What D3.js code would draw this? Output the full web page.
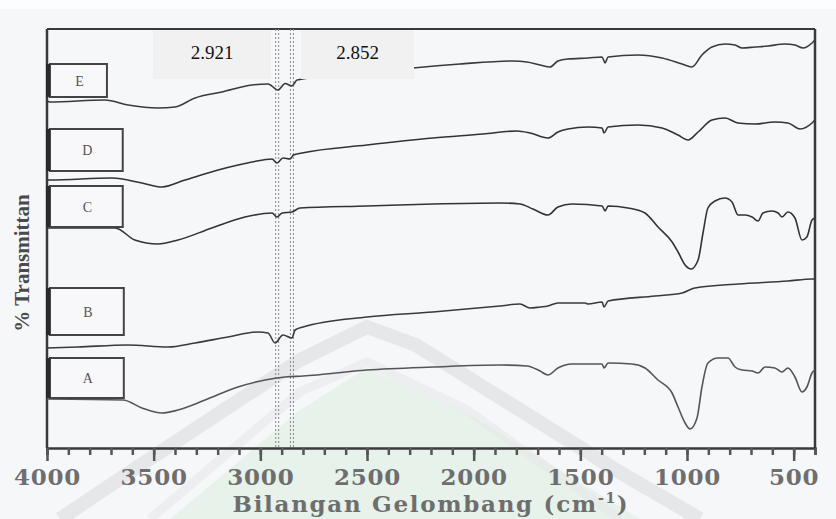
<!DOCTYPE html>
<html><head><meta charset="utf-8">
<script src="https://cdn.jsdelivr.net/npm/d3@7"></script>
<style>html,body{margin:0;padding:0;background:#f6f7f9;} svg{display:block;}</style>
</head><body><svg id="chart" width="836" height="519"></svg>
<script>
// ---------- DATA (wavenumber cm-1, transmittance in arbitrary stacked units) ----------
const seriesNames = ["A", "B", "C", "D", "E"];

const wnA = [4000,3644,3555,3461,3386,3259,3105,2978,2884,2800,2500,2191,1877,1750,1689,1652,1605,1539,1398,1389,1370,1258,1197,1136,1070,1042,1009,986,953,930,902,855,808,775,742,695,667,634,588,555,527,494,461,438,414,400];
const tA  = [49,48,40,35,38,48,61,68,71,72,78,81,83,82,77,73,80,84,84,80,85,84,80,68,55,41,25,19,30,61,85,90,90,81,78,77,75,81,80,76,80,71,56,61,75,78];

const wnB = [4000,3855,3620,3433,3306,3152,3011,2964,2931,2894,2852,2837,2800,2500,2191,1877,1783,1736,1689,1652,1605,1478,1464,1398,1389,1370,1150,1023,963,761,527,414,400];
const tB  = [100,101,103,101,105,111,116,115,105,113,110,118,121,131,136,142,144,140,141,142,145,145,144,146,141,147,152,155,160,164,167,169,169];

const wnC = [4000,3681,3588,3480,3386,3227,3072,2945,2922,2898,2852,2814,2500,2191,1877,1783,1722,1652,1605,1539,1398,1384,1370,1277,1197,1136,1070,1042,1009,981,948,925,902,869,822,789,761,728,695,667,644,602,573,555,527,494,461,438,414,400];
const tC  = [220,220,208,204,208,220,231,235,231,235,236,240,242,244,245,244,239,233,241,244,242,237,242,240,235,221,206,196,183,179,188,215,240,247,250,246,233,233,231,227,235,237,235,231,236,230,208,211,228,230];

const wnD = [4000,3986,3695,3555,3461,3353,3198,3039,2945,2922,2894,2860,2845,2805,2500,2191,1956,1797,1736,1652,1605,1558,1464,1398,1389,1370,1230,1117,1042,995,948,883,822,761,681,588,527,470,414,400];
const tD  = [268,268,270,265,261,268,278,286,289,285,290,289,293,295,303,310,314,317,315,310,316,319,321,320,315,321,323,320,313,308,316,328,330,325,324,326,325,319,325,328];

const wnE = [4000,3986,3728,3620,3480,3400,3306,3180,3039,2964,2917,2884,2852,2828,2500,2284,2064,1816,1750,1689,1642,1605,1558,1464,1398,1384,1370,1230,1117,1023,977,930,883,822,775,742,681,620,541,494,456,414,400];
const tE  = [347,346,348,343,340,341,350,356,363,364,358,364.5,362,368,375,380,384,387,386,383,381,387,389,390,391,385,391,393,390,384,381,393,401,404,403,400,401,402,404,403,400,405,408];

const xMinorTicks = d3.range(4000, 399, -100);
const xMajorTicks = [4000, 3500, 3000, 2500, 2000, 1500, 1000, 500];
const peakWn = [2921, 2852];
const peakLabels = ["2.921", "2.852"];
const xTitle = "Bilangan Gelombang (cm";
const xTitleSup = "-1";
const yTitle = "% Transmittan";

// ---------- LAYOUT ----------
const W = 836, H = 519;
const plot = {left: 47, right: 815, top: 29, bottom: 448};
const svg = d3.select("#chart");

const x = d3.scaleLinear().domain([4000, 400]).range([plot.left, plot.right]);
const y = d3.scaleLinear().domain([0, 420]).range([plot.bottom, plot.top - 1]);

// background
svg.append("rect").attr("width", W).attr("height", H).attr("fill", "#f6f7f9");
svg.append("rect").attr("width", W).attr("height", 9).attr("fill", "#fdfdfe");

// faint watermark
const wm = svg.append("g");
wm.append("path")
  .attr("d", "M170,519 L300,410 L367,368 L470,415 L640,519 Z")
  .attr("fill", "#e6f2ea");
wm.append("path")
  .attr("d", "M60,519 L133,470 L300,360 L367,327 L416,345 L616,470 L700,519")
  .attr("fill", "none").attr("stroke", "#e0e0e2").attr("stroke-width", 14).attr("opacity", 0.7);
wm.append("path")
  .attr("d", "M150,519 L300,392 L367,362 L467,410 L620,519")
  .attr("fill", "none").attr("stroke", "#e8e8ea").attr("stroke-width", 9).attr("opacity", 0.6);

// frame
const frame = svg.append("g").attr("stroke", "#3a3a3a").attr("fill", "none");
frame.append("line").attr("x1", plot.left).attr("x2", plot.right).attr("y1", plot.top).attr("y2", plot.top).attr("stroke-width", 2);
frame.append("line").attr("x1", plot.right).attr("x2", plot.right).attr("y1", plot.top).attr("y2", plot.bottom).attr("stroke-width", 2.5);
frame.append("line").attr("x1", plot.left).attr("x2", plot.left).attr("y1", plot.top).attr("y2", plot.bottom).attr("stroke-width", 2.5);

// dotted peak markers (double dotted lines)
peakWn.forEach(w => {
  [-1.5, 1.5].forEach(off => {
    svg.append("line")
      .attr("x1", x(w) + off).attr("x2", x(w) + off)
      .attr("y1", plot.top).attr("y2", plot.bottom)
      .attr("stroke", "#8a8a8a").attr("stroke-width", 1)
      .attr("stroke-dasharray", "2,2");
  });
});

// spectra
const seriesData = {
  A: {wn: wnA, t: tA, color: "#555"},
  B: {wn: wnB, t: tB, color: "#3a3a3a"},
  C: {wn: wnC, t: tC, color: "#333"},
  D: {wn: wnD, t: tD, color: "#333"},
  E: {wn: wnE, t: tE, color: "#3a3a3a"}
};
const line = d3.line().x(d => x(d[0])).y(d => y(d[1])).curve(d3.curveMonotoneX);
seriesNames.forEach(n => {
  const s = seriesData[n];
  const pts = s.wn.map((w, i) => [w, s.t[i]]);
  svg.append("path").datum(pts).attr("d", line)
    .attr("fill", "none").attr("stroke", s.color).attr("stroke-width", 1.6)
    .attr("stroke-linejoin", "round");
});

// series label boxes (in data units: top/bottom transmittance, right wavenumber)
const boxSpec = {
  E: {top: 384, bottom: 351, right: 3719},
  D: {top: 319, bottom: 277, right: 3645},
  C: {top: 262, bottom: 221, right: 3645},
  B: {top: 160, bottom: 113, right: 3640},
  A: {top: 90,  bottom: 50,  right: 3640}
};
seriesNames.forEach(n => {
  const b = boxSpec[n];
  const x0 = x(3986), x1 = x(b.right), y0 = y(b.top), y1 = y(b.bottom);
  svg.append("rect").attr("x", x0).attr("y", y0).attr("width", x1 - x0).attr("height", y1 - y0)
    .attr("fill", "#f8f8fa").attr("stroke", "#444").attr("stroke-width", 2);
  svg.append("text").attr("x", (x0 + x1) / 2 + 1).attr("y", (y0 + y1) / 2 + 5)
    .attr("text-anchor", "middle").attr("font-family", "Liberation Serif, serif")
    .attr("font-size", 14).attr("fill", "#555").text(n);
});
// thick dark left edge segments near boxes
seriesNames.forEach(n => {
  const b = boxSpec[n];
  svg.append("line").attr("x1", plot.left + 1).attr("x2", plot.left + 1)
    .attr("y1", y(b.top)).attr("y2", y(b.bottom))
    .attr("stroke", "#2a2a2a").attr("stroke-width", 4);
});

// peak label boxes
const peakBoxes = [{x0: 153, x1: 271}, {x0: 301, x1: 414}];
peakLabels.forEach((lab, i) => {
  const pb = peakBoxes[i];
  svg.append("rect").attr("x", pb.x0).attr("y", 30).attr("width", pb.x1 - pb.x0).attr("height", 49)
    .attr("fill", "#f1f1f1");
  svg.append("text").attr("x", (pb.x0 + pb.x1) / 2).attr("y", 59)
    .attr("text-anchor", "middle").attr("font-family", "Liberation Serif, serif")
    .attr("font-size", 19).attr("fill", "#111").text(lab);
});

// x axis
const axMinor = svg.append("g").attr("transform", `translate(0,${plot.bottom})`)
  .call(d3.axisBottom(x).tickValues(xMinorTicks).tickSize(7).tickFormat(""));
axMinor.select(".domain").attr("stroke", "#3a3a3a").attr("stroke-width", 2.5);
axMinor.selectAll(".tick line").attr("stroke", "#555").attr("stroke-width", 2.5);

const axMajor = svg.append("g").attr("transform", `translate(0,${plot.bottom})`)
  .call(d3.axisBottom(x).tickValues(xMajorTicks).tickSize(13).tickPadding(8).tickFormat(d3.format("d")));
axMajor.select(".domain").remove();
axMajor.selectAll(".tick line").attr("stroke", "#555").attr("stroke-width", 2.5);
axMajor.selectAll(".tick text")
  .attr("font-family", "DejaVu Serif, serif").attr("font-weight", "bold")
  .attr("font-size", 23).attr("letter-spacing", 0.8).attr("fill", "#6e6e6e");

// x title
const xt = svg.append("text").attr("x", 431).attr("y", 512).attr("text-anchor", "middle")
  .attr("font-family", "DejaVu Serif, serif").attr("font-weight", "bold")
  .attr("font-size", 23).attr("letter-spacing", 1.7).attr("fill", "#6e6e6e");
xt.append("tspan").text(xTitle);
xt.append("tspan").attr("dy", -9).attr("font-size", 14).text(xTitleSup);
xt.append("tspan").attr("dy", 9).text(")");

// y title
svg.append("text").attr("transform", "translate(29,263) rotate(-90)")
  .attr("text-anchor", "middle").attr("font-family", "Liberation Serif, serif")
  .attr("font-weight", "bold").attr("font-size", 21).attr("fill", "#4a4a4a").text(yTitle);
</script></body></html>
